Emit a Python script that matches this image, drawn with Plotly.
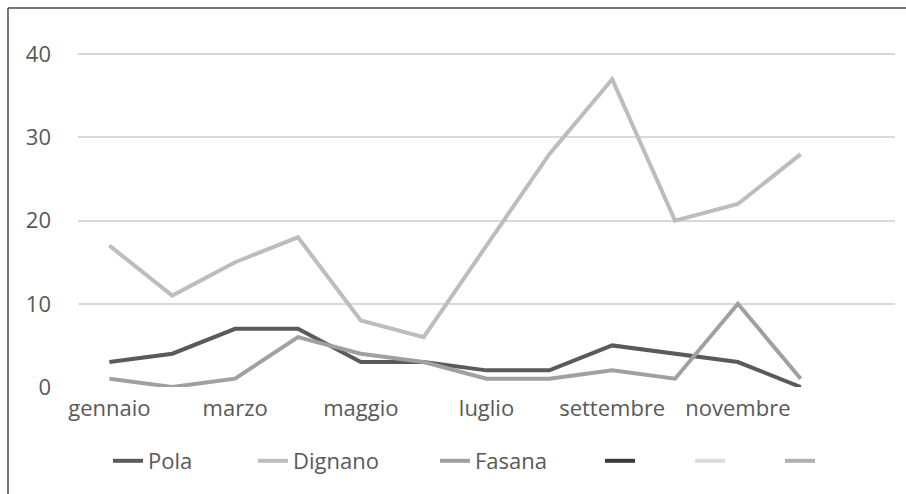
import plotly.graph_objects as go

# Monthly counts per town
months = ["gennaio", "febbraio", "marzo", "aprile", "maggio", "giugno",
          "luglio", "agosto", "settembre", "ottobre", "novembre", "dicembre"]
pola = [3, 4, 7, 7, 3, 3, 2, 2, 5, 4, 3, 0]
dignano = [17, 11, 15, 18, 8, 6, 17, 28, 37, 20, 22, 28]
fasana = [1, 0, 1, 6, 4, 3, 1, 1, 2, 1, 10, 1]
y_ticks = [0, 10, 20, 30, 40]

series = [
    ("Pola", pola, "#5a5a5a"),
    ("Dignano", dignano, "#bdbdbd"),
    ("Fasana", fasana, "#a0a0a0"),
    ("", [None] * 12, "#3a3a3a"),
    ("", [None] * 12, "#dcdcdc"),
    ("", [None] * 12, "#b0b0b0"),
]
legend_px = [108, 253, 435, 600, 690, 780]

font_family = "Open Sans, Lato, sans-serif"
text_color = "#595959"
font_size = 22
W, H = 906, 494
L, R, T, B = 78, 11, 46, 107
PW, PH = W - L - R, H - T - B

fig = go.Figure()
layout_legends = {}
for i, (name, vals, color) in enumerate(series):
    key = "legend" if i == 0 else f"legend{i + 1}"
    fig.add_trace(go.Scatter(
        x=months, y=vals, name=name, mode="lines",
        line=dict(color=color, width=4),
        legend=key, showlegend=True,
    ))
    layout_legends[key] = dict(
        x=(legend_px[i] - L) / PW, y=(T + PH - 461) / PH,
        xanchor="left", yanchor="middle", orientation="h",
        bgcolor="rgba(0,0,0,0)", borderwidth=0,
        font=dict(family=font_family, size=font_size, color=text_color),
    )

fig.update_layout(
    width=W, height=H,
    margin=dict(l=L, r=R, t=T, b=B),
    paper_bgcolor="white", plot_bgcolor="white",
    font=dict(family=font_family, size=font_size, color=text_color),
    **layout_legends,
)

fig.update_xaxes(
    type="category", categoryorder="array", categoryarray=months,
    range=[-0.5, 12.5],
    tickmode="array", tickvals=months[::2], ticktext=months[::2],
    showgrid=False, zeroline=False, showline=False, ticks="",
    ticklabelstandoff=6,
    tickfont=dict(size=font_size, color=text_color),
)
fig.update_yaxes(
    range=[0, 41], tickmode="array", tickvals=y_ticks,
    showgrid=True, gridcolor="#d9d9d9", gridwidth=2,
    zeroline=False, showline=False, ticks="",
    ticklabelstandoff=26,
    tickfont=dict(size=font_size, color=text_color),
)

# Frame along the top and left edges
fx = (8 - L) / PW
fy = (T + PH - 8) / PH
fig.add_shape(type="line", xref="paper", yref="paper",
              x0=fx, x1=1.05, y0=fy, y1=fy,
              line=dict(color="#4a4a4a", width=1.5))
fig.add_shape(type="line", xref="paper", yref="paper",
              x0=fx, x1=fx, y0=fy, y1=-0.5,
              line=dict(color="#4a4a4a", width=1.5))

fig.write_html("out.html")
